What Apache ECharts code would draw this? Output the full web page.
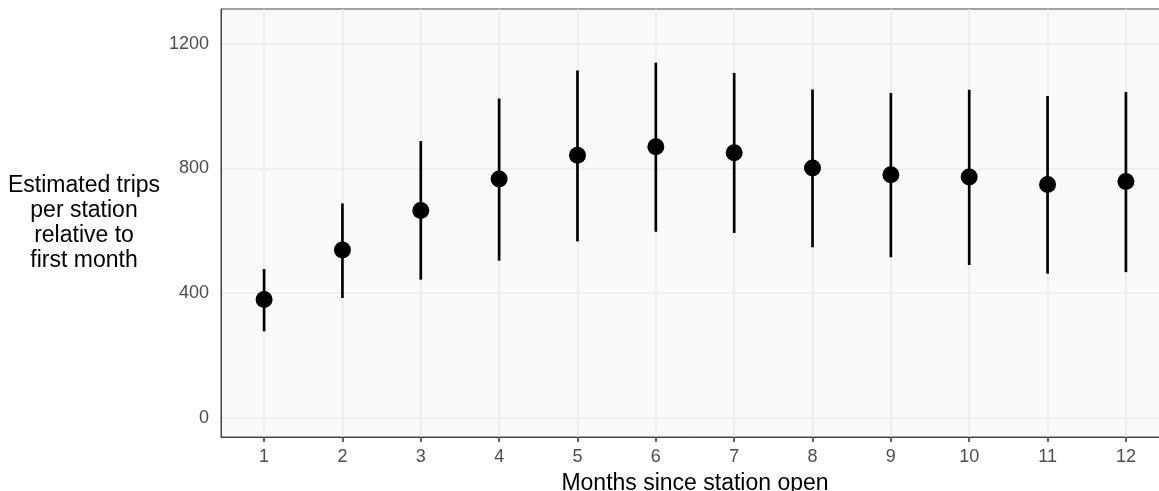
<!DOCTYPE html>
<html>
<head>
<meta charset="utf-8">
<script src="https://cdn.jsdelivr.net/npm/echarts@6/dist/echarts.min.js"></script>
<style>
  html, body { margin: 0; padding: 0; background: #fff; }
  #chart-container { width: 1159px; height: 491px; }
</style>
</head>
<body>
<div id="chart-container"></div>
<script>
// months since station open
var months = [1, 2, 3, 4, 5, 6, 7, 8, 9, 10, 11, 12];
// estimated trips per station (point) and interval ends
var estimate = [379, 538, 665, 766, 843, 870, 851, 802, 780, 773, 749, 758];
var lower = [277, 384, 443, 504, 566, 597, 593, 547, 515, 490, 462, 467];
var upper = [477, 688, 888, 1025, 1115, 1140, 1107, 1054, 1043, 1053, 1033, 1046];
var yTicks = [0, 400, 800, 1200];

var myChart = echarts.init(document.getElementById('chart-container'));

var pointData = [];
var barData = [];
months.forEach(function (m, i) {
    pointData.push([m, estimate[i]]);
    barData.push([m, lower[i], upper[i]]);
});

var font = 'Liberation Sans, Arial, Helvetica, sans-serif';

var option = {
    animation: false,
    grid: {
        left: 221,
        top: 9,
        width: 948,
        height: 428,
        outerBoundsMode: 'none',
        containLabel: false,
        show: true,
        backgroundColor: '#FAFAFA',
        borderColor: '#444',
        borderWidth: 1
    },
    xAxis: {
        type: 'value',
        min: 0.45,
        max: 12.55,
        name: 'Months since station open',
        nameLocation: 'middle',
        nameGap: 35,
        nameTextStyle: { fontFamily: font, fontSize: 23, color: '#000' },
        axisLine: { show: true, onZero: false, lineStyle: { color: '#444', width: 1 } },
        axisTick: { show: true, length: 5, customValues: months, lineStyle: { color: '#333', width: 1.5 } },
        axisLabel: { customValues: months, margin: 11, fontFamily: font, fontSize: 18, color: '#4D4D4D' },
        splitLine: { show: true, lineStyle: { color: '#EBEBEB', width: 1.6 } }
    },
    yAxis: {
        type: 'value',
        min: -62.5,
        max: 1312.5,
        name: 'Estimated trips\nper station\nrelative to\nfirst month',
        nameLocation: 'middle',
        nameRotate: 0,
        nameGap: 137,
        nameTextStyle: {
            fontFamily: font, fontSize: 23, lineHeight: 25, color: '#000',
            align: 'center', verticalAlign: 'middle'
        },
        axisLine: { show: true, lineStyle: { color: '#444', width: 1 } },
        axisTick: { show: false, customValues: yTicks },
        axisLabel: {
            customValues: yTicks, margin: 12, fontFamily: font, fontSize: 18, color: '#4D4D4D',
            formatter: function (v) { return String(v); }
        },
        splitLine: { show: true, lineStyle: { color: '#EBEBEB', width: 1.6 } }
    },
    series: [
        {
            type: 'custom',
            data: barData,
            z: 2,
            renderItem: function (params, api) {
                var p1 = api.coord([api.value(0), api.value(1)]);
                var p2 = api.coord([api.value(0), api.value(2)]);
                return {
                    type: 'line',
                    shape: { x1: p1[0], y1: p1[1], x2: p2[0], y2: p2[1] },
                    style: { stroke: '#000', lineWidth: 2.7 }
                };
            }
        },
        {
            type: 'scatter',
            data: pointData,
            z: 3,
            symbol: 'circle',
            symbolSize: 17,
            itemStyle: { color: '#000', opacity: 1 }
        }
    ]
};

myChart.setOption(option);
</script>
</body>
</html>
